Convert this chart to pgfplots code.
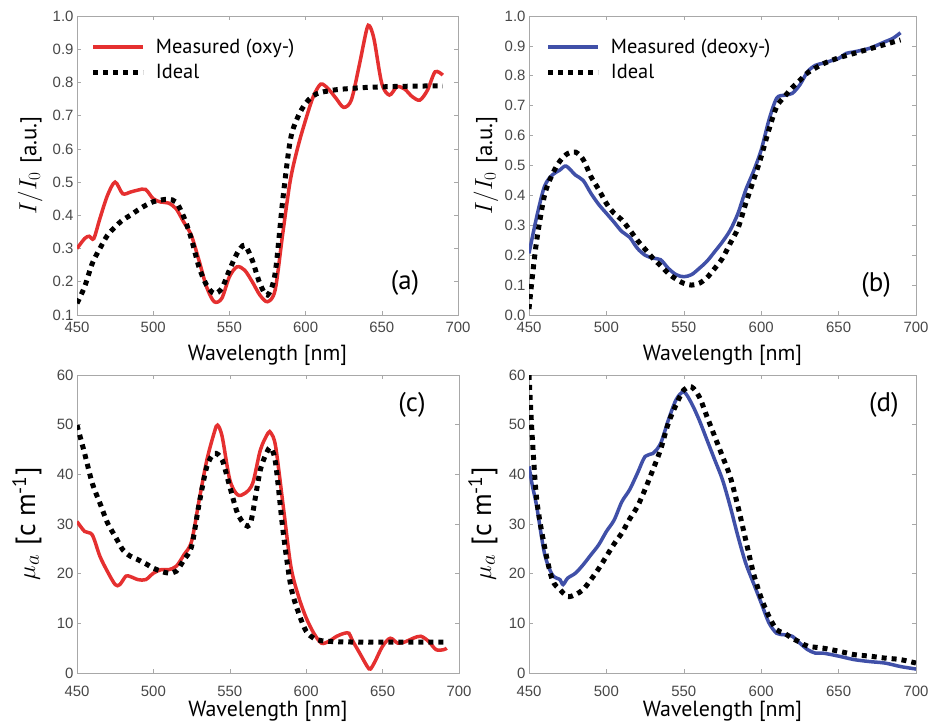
\documentclass[border=0pt]{standalone}
\usepackage{fontspec}
\usepackage{pgfplots}
\pgfplotsset{compat=1.18}
\newfontfamily\tickfont{Liberation Sans}
\newfontfamily\labfont{PT Sans}
\definecolor{measred}{HTML}{E53030}
\definecolor{measblue}{HTML}{4050A8}
\definecolor{framegray}{HTML}{A8A8A8}

\pgfplotsset{
  panel/.style={
    scale only axis, xmin=450, xmax=700, xtick={450,500,...,700},
    axis line style={framegray, line width=0.8bp},
    tick align=inside, major tick length=4bp,
    tick style={framegray, line width=0.6bp},
    tick label style={font=\tickfont\fontsize{15}{18}\selectfont, text=black!72},
    /pgf/number format/assume math mode=true,
    xticklabel style={yshift=-4bp},
    xlabel={\labfont\fontsize{22}{25}\selectfont Wavelength [nm]},
    xlabel style={at={(axis description cs:0.5,-0.135)}, anchor=center},
    ylabel style={anchor=center},
    legend cell align=left,
    legend image code/.code={\draw[##1] (0bp,0bp) -- (50bp,0bp);},
    legend style={draw=none, fill=none, anchor=north west, inner sep=0pt,
      font=\labfont\fontsize{20.5}{23}\selectfont, row sep=5bp, column sep=8bp,
      nodes={inner sep=2bp}},
  },
  meas/.style={color=#1, line width=3.5bp, smooth, tension=0.5},
  ideal/.style={black, line width=5bp, dash pattern=on 5bp off 5bp, smooth, tension=0.5},
  toprow/.style={width=381bp, height=299bp, ymax=1.0, ytick={0,0.1,...,1.0},
    yticklabel style={/pgf/number format/.cd, fixed, fixed zerofill, precision=1},
    ylabel={\fontsize{27}{30}\selectfont$I/I_0$\ {\labfont\fontsize{23}{26}\selectfont[a.u.]}}},
  botrow/.style={height=298bp, ymin=0, ymax=60, ytick={0,10,...,60},
    xticklabel style={yshift=-6bp},
    ylabel={\fontsize{32}{34}\selectfont$\mu_a$ {\labfont\fontsize{28}{30}\selectfont[c m\textsuperscript{-1}]}}},
}

\begin{document}
\begin{tikzpicture}
\path[use as bounding box] (0,0) rectangle (936bp,725bp);

% (a) oxy intensity
\begin{axis}[panel, toprow, at={(77bp,410bp)}, anchor=south west, ymin=0.1,
  ylabel style={at={(axis description cs:-0.123,0.5)}},
  legend style={at={(axis description cs:0.036,0.93)}}]
\addplot[meas=measred] coordinates {
(450,0.30)(455,0.33)(458,0.337)(461,0.33)(465,0.39)(470,0.46)(475,0.50)(480,0.465)
(485,0.47)(490,0.476)(495,0.478)(500,0.45)(505,0.44)(510,0.437)(515,0.42)(520,0.38)
(525,0.34)(530,0.265)(535,0.185)(540,0.14)(545,0.15)(550,0.215)(555,0.245)(560,0.235)
(565,0.20)(570,0.16)(575,0.14)(580,0.175)(585,0.345)(590,0.506)(595,0.607)(600,0.687)
(605,0.757)(610,0.795)(615,0.78)(620,0.752)(625,0.725)(630,0.747)(635,0.847)(640,0.958)
(642,0.97)(645,0.928)(650,0.797)(655,0.762)(660,0.787)(665,0.78)(670,0.757)(675,0.747)
(680,0.777)(685,0.832)(690,0.822)};
\addplot[ideal] coordinates {
(450,0.135)(455,0.185)(460,0.255)(465,0.30)(470,0.34)(475,0.365)(480,0.386)(485,0.40)
(490,0.416)(495,0.43)(500,0.441)(505,0.446)(510,0.448)(515,0.44)(520,0.396)(525,0.33)
(530,0.245)(535,0.19)(540,0.165)(545,0.18)(550,0.235)(555,0.285)(560,0.31)(565,0.265)
(570,0.195)(575,0.16)(580,0.225)(585,0.446)(590,0.627)(595,0.697)(600,0.737)(605,0.76)
(610,0.77)(620,0.778)(630,0.782)(640,0.785)(660,0.788)(690,0.79)};
\legend{Measured (oxy-),Ideal}
\node[font=\labfont\fontsize{27}{30}\selectfont] at (axis description cs:0.861,0.107) {(a)};
\end{axis}

% (b) deoxy intensity
\begin{axis}[panel, toprow, width=387bp, at={(529bp,410bp)}, anchor=south west, ymin=0,
  ylabel style={at={(axis description cs:-0.111,0.5)}},
  legend style={at={(axis description cs:0.043,0.93)}}]
\addplot[meas=measblue] coordinates {
(450,0.206)(455,0.329)(460,0.43)(465,0.468)(470,0.485)(474,0.498)(480,0.468)(485,0.45)
(490,0.407)(495,0.37)(500,0.34)(505,0.31)(510,0.279)(515,0.26)(520,0.223)(525,0.20)
(530,0.19)(535,0.185)(540,0.156)(545,0.135)(550,0.128)(555,0.135)(560,0.156)(565,0.18)
(570,0.212)(575,0.245)(580,0.284)(585,0.34)(590,0.418)(595,0.48)(600,0.552)(605,0.652)
(610,0.725)(615,0.735)(620,0.741)(625,0.77)(630,0.814)(635,0.835)(640,0.842)(645,0.85)
(650,0.858)(655,0.875)(660,0.88)(670,0.892)(680,0.914)(685,0.925)(690,0.944)};
\addplot[ideal] coordinates {
(450,0.02)(452,0.12)(455,0.25)(460,0.40)(465,0.47)(470,0.515)(475,0.54)(480,0.545)
(485,0.52)(490,0.463)(495,0.42)(500,0.373)(505,0.34)(510,0.318)(515,0.285)(520,0.25)
(525,0.22)(530,0.19)(535,0.165)(540,0.139)(545,0.12)(550,0.106)(555,0.10)(560,0.106)
(565,0.125)(570,0.156)(575,0.19)(580,0.24)(585,0.29)(590,0.373)(595,0.45)(600,0.53)
(605,0.62)(610,0.697)(615,0.73)(620,0.76)(625,0.785)(630,0.81)(640,0.84)(650,0.86)
(660,0.875)(670,0.89)(680,0.905)(690,0.92)};
\legend{Measured (deoxy-),Ideal}
\node[font=\labfont\fontsize{27}{30}\selectfont] at (axis description cs:0.897,0.10) {(b)};
\end{axis}

% (c) oxy absorption
\begin{axis}[panel, botrow, width=382bp, at={(77bp,52bp)}, anchor=south west,
  ylabel style={at={(axis description cs:-0.131,0.5)}},
  xlabel style={at={(axis description cs:0.5,-0.13)}}]
\addplot[meas=measred] coordinates {
(450,30.5)(455,28.5)(460,27.8)(465,23.5)(470,20.4)(475,17.8)(478,17.8)(482,19.5)
(485,19.4)(490,18.8)(495,18.8)(500,20.1)(505,20.8)(510,20.8)(515,21.5)(520,23.8)
(525,26.5)(530,34.9)(535,42.9)(540,48.6)(542,49.9)(545,47.6)(550,38.9)(555,35.9)
(560,36.2)(565,38.2)(570,44.9)(575,48.3)(577,48.3)(580,45.6)(585,33.5)(590,21.4)
(595,15.4)(600,11.1)(605,8.0)(610,6.0)(615,6.4)(620,7.4)(625,8.0)(628,8.0)(630,6.7)
(635,4.0)(640,1.3)(642,0.8)(645,2.3)(650,5.4)(655,7.0)(660,6.0)(665,6.3)(670,7.0)
(675,7.4)(680,6.4)(685,4.7)(690,4.7)(692,5.0)};
\addplot[ideal] coordinates {
(450,49.9)(455,44.2)(460,38.2)(465,34.2)(470,30.2)(475,27.5)(480,24.8)(485,23.5)
(490,22.8)(495,22.0)(500,21.1)(505,20.5)(510,20.1)(515,20.5)(520,22.8)(525,25.5)
(530,34.2)(535,41.6)(540,44.2)(545,42.9)(550,37.5)(555,32.2)(560,29.8)(563,29.8)
(565,32.2)(570,40.9)(575,44.9)(577,45.2)(580,42.2)(585,28.2)(590,17.4)(595,12.1)
(600,8.4)(605,7.0)(610,6.5)(620,6.3)(640,6.2)(660,6.2)(692,6.2)};
\node[font=\labfont\fontsize{27}{30}\selectfont] at (axis description cs:0.877,0.899) {(c)};
\end{axis}

% (d) deoxy absorption
\begin{axis}[panel, botrow, width=387bp, at={(529bp,52bp)}, anchor=south west,
  ylabel style={at={(axis description cs:-0.119,0.5)}},
  xlabel style={at={(axis description cs:0.5,-0.13)}}]
\addplot[meas=measblue] coordinates {
(450,41.6)(452,38)(455,33.5)(460,24.1)(465,19.8)(470,18.8)(472,17.8)(475,19.1)
(480,20.1)(485,21.8)(490,23.8)(495,25.8)(500,28.5)(505,30.8)(510,34.5)(515,36.9)
(520,40.2)(525,43.6)(530,44.2)(535,46.2)(540,50.9)(545,55.0)(550,56.6)(555,54.3)
(560,50.9)(565,46.9)(570,42.9)(575,38.9)(580,33.5)(585,27.5)(590,22.1)(595,18.1)
(600,14.1)(605,10.1)(610,8.0)(615,7.7)(620,7.4)(625,6.0)(630,4.7)(635,4.0)(640,4.0)
(650,3.4)(660,2.7)(670,2.3)(680,2.0)(690,1.3)(700,0.8)};
\addplot[ideal] coordinates {
(450,60)(452,48)(455,34.9)(460,25.5)(465,18.8)(470,16.8)(475,15.4)(480,15.8)
(485,16.8)(490,18.8)(495,21)(500,23.5)(505,26)(510,28.2)(515,31)(520,33.5)(525,37)
(530,40.9)(535,45)(540,50.3)(545,54)(550,57.0)(555,57.6)(560,55.6)(565,51.6)(570,47.6)
(575,43.6)(580,39.5)(585,33.5)(590,26.8)(595,20.1)(600,15.1)(605,11.4)(610,8.7)
(615,8.0)(620,7.0)(625,6.2)(630,5.4)(640,5.0)(650,4.4)(660,3.7)(670,3.4)(680,3.0)
(690,2.7)(700,2.0)};
\node[font=\labfont\fontsize{27}{30}\selectfont] at (axis description cs:0.917,0.899) {(d)};
\end{axis}
\end{tikzpicture}
\end{document}
